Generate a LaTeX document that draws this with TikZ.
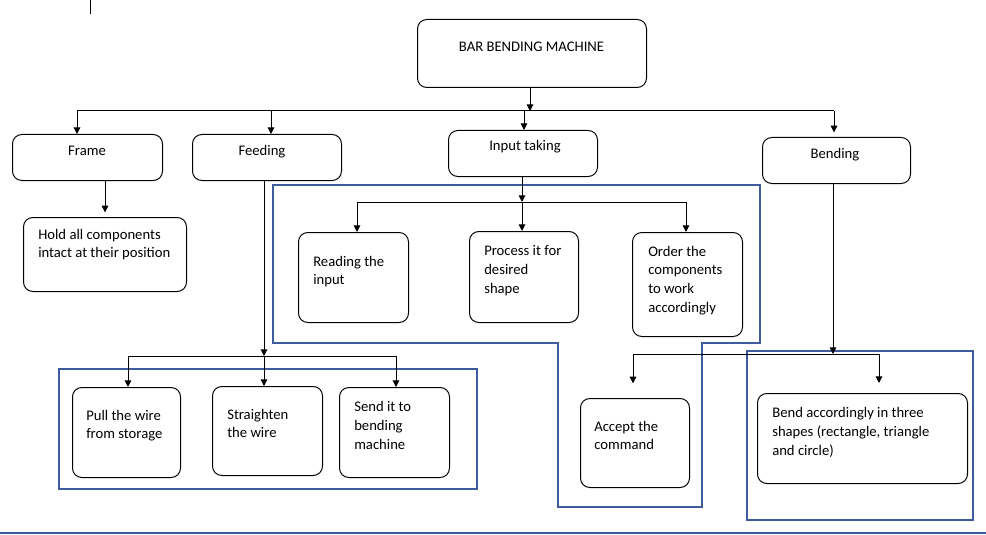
\documentclass[tikz,border=0pt]{standalone}
\usepackage{fontspec}
\setmainfont{Carlito}
\usetikzlibrary{arrows.meta}

\definecolor{grpblue}{RGB}{62,92,155}
\definecolor{ruleblue}{RGB}{55,95,160}

\begin{document}
\begin{tikzpicture}[x=0.75pt, y=-0.75pt,
    blk/.style 2 args={draw, rounded corners=7pt, line width=0.75pt, anchor=north west,
        inner sep=0pt, minimum width=#1*0.75pt, minimum height=#2*0.75pt},
    txt/.style={anchor=base west, align=left, inner sep=0pt, font=\fontsize{11}{14}\selectfont},
    arr/.style={-{Triangle[length=5pt,width=5pt]}, line width=0.75pt},
    ln/.style={line width=0.75pt},
    grp/.style={draw=grpblue, line width=0.9pt}]

    \useasboundingbox (0,0) rectangle (986,535);

    % group frames
    \draw[grp] (59,369) rectangle (477,489);
    \draw[grp] (747,351) rectangle (973,520);
    \draw[grp] (273,185) -- (760,185) -- (760,343) -- (702,343) -- (702,507)
        -- (558,507) -- (558,343) -- (273,343) -- cycle;
    \draw[ruleblue, line width=1.4pt] (0,533) -- (986,533);
    \draw[ln] (90,0) -- (90,14);

    % top level
    \node[blk={229}{68}] (bbm) at (417,19) {};
    \node[txt, anchor=base] (bbmtxt) at (531.5,52) {BAR BENDING MACHINE};

    \node[blk={150}{46}] (frame) at (12,134) {};
    \node[txt, anchor=base] (frametxt) at (87,156) {Frame};
    \node[blk={149}{46}] (feed) at (192,134) {};
    \node[txt, anchor=base] (feedtxt) at (262,156) {Feeding};
    \node[blk={149}{46}] (input) at (448,130) {};
    \node[txt, anchor=base] (inputtxt) at (525,151) {Input taking};
    \node[blk={148}{46}] (bend) at (762,137) {};
    \node[txt, anchor=base] (bendtxt) at (835,158) {Bending};

    % second level (text placed by its last baseline)
    \node[blk={163}{74}] (hold) at (23,217) {};
    \node[txt] (holdtxt) at (38,257.7) {Hold all components\\intact at their position};

    \node[blk={110}{90}] (read) at (298,232) {};
    \node[txt] (readtxt) at (313,284.7) {Reading the\\input};
    \node[blk={109}{91}] (proc) at (469,231) {};
    \node[txt] (proctxt) at (484,293.3) {Process it for\\desired\\shape};
    \node[blk={110}{104}] (order) at (632,232) {};
    \node[txt] (ordertxt) at (648,312) {Order the\\components\\to work\\accordingly};

    \node[blk={108}{90}] (pull) at (72,387) {};
    \node[txt] (pulltxt) at (86,438.7) {Pull the wire\\from storage};
    \node[blk={110}{89}] (strt) at (212,386) {};
    \node[txt] (strttxt) at (227,437.7) {Straighten\\the wire};
    \node[blk={110}{90}] (send) at (339,387) {};
    \node[txt] (sendtxt) at (354,449.3) {Send it to\\bending\\machine};

    \node[blk={109}{89}] (accept) at (580,398) {};
    \node[txt] (accepttxt) at (594,449.7) {Accept the\\command};
    \node[blk={210}{90}] (shapes) at (757,393) {};
    \node[txt] (shapestxt) at (772,455.3) {Bend accordingly in three\\shapes (rectangle, triangle\\and circle)};

    % connectors, top level
    \coordinate (hub) at (530,111);
    \coordinate (hubl) at (77,111);
    \coordinate (hubr) at (834,111);
    \coordinate (dfeed) at (271,111);
    \coordinate (dinput) at (524,111);
    \draw[arr] (hub |- bbm.south) -- (hub);
    \draw[ln] (hubl) -- (hubr);
    \draw[arr] (hubl) -- (hubl |- frame.north);
    \draw[arr] (dfeed) -- (dfeed |- feed.north);
    \draw[arr] (dinput) -- (dinput |- input.north);
    \draw[arr, shorten >=3.5pt] (hubr) -- (hubr |- bend.north);

    % frame
    \coordinate (fdrop) at (105,0);
    \draw[arr, shorten >=3.5pt] (fdrop |- frame.south) -- (fdrop |- hold.north);

    % feeding
    \coordinate (fhub) at (264,356);
    \coordinate (fhubl) at (128,356);
    \coordinate (fhubr) at (396,356);
    \draw[arr] (fhub |- feed.south) -- (fhub);
    \draw[ln] (fhubl) -- (fhubr);
    \draw[arr] (fhubl) -- (fhubl |- pull.north);
    \draw[arr] (fhub) -- (fhub |- strt.north);
    \draw[arr] (fhubr) -- (fhubr |- send.north);

    % input taking
    \coordinate (ihub) at (522,202);
    \coordinate (ihubl) at (357,202);
    \coordinate (ihubr) at (686,202);
    \draw[arr] (ihub |- input.south) -- (ihub);
    \draw[ln] (ihubl) -- (ihubr);
    \draw[arr] (ihubl) -- (ihubl |- read.north);
    \draw[arr] (ihub) -- (ihub |- proc.north);
    \draw[arr] (ihubr) -- (ihubr |- order.north);

    % bending
    \coordinate (bhub) at (833,354);
    \coordinate (bhubl) at (633,354);
    \coordinate (bhubr) at (879,354);
    \draw[arr] (bhub |- bend.south) -- (bhub);
    \draw[ln] (bhubl) -- (bhubr);
    \draw[arr, shorten >=11pt] (bhubl) -- (bhubl |- accept.north);
    \draw[arr, shorten >=7.5pt] (bhubr) -- (bhubr |- shapes.north);

\end{tikzpicture}
\end{document}
